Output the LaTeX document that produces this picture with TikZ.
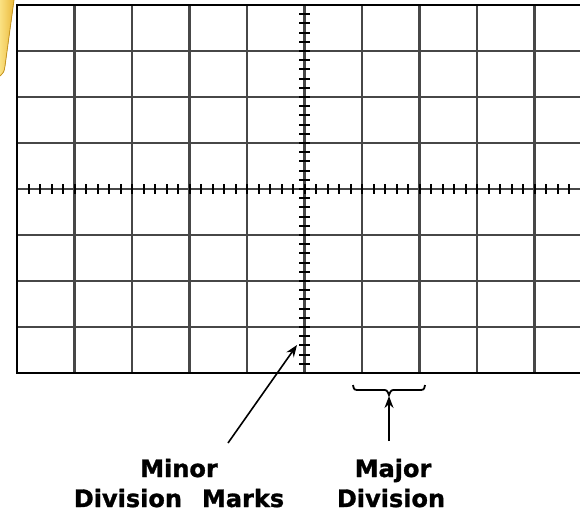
\documentclass[tikz,border=0pt]{standalone}
\usepackage{fontspec}
\setmainfont{DejaVu Sans}[BoldFeatures={FakeBold=1.2}]
\usetikzlibrary{arrows.meta}
\definecolor{foldlight}{RGB}{250,225,130}
\definecolor{folddark}{RGB}{235,185,60}
\definecolor{foldedge}{RGB}{200,150,30}
\tikzset{
  gridline/.style={line width=2.6pt, black!72},
  border/.style={line width=2.6pt, black},
  tick/.style={line width=2pt, black},
  pointer/.style={line width=1.6pt, black, -{Stealth[length=12pt,width=9pt]}},
  lbl/.style={font=\fontsize{24pt}{26pt}\selectfont\bfseries, anchor=base, inner sep=0pt},
}
\begin{document}
\begin{tikzpicture}[x=1pt,y=-1pt]
\useasboundingbox (0,0) rectangle (580,513);
% yellow folder corner
\fill[left color=foldlight, right color=folddark]
  (0,0) -- (14,0) -- (5,66) .. controls (4,72) .. (0,76) -- cycle;
\draw[line width=0.8pt, foldedge] (14,0) -- (5,66) .. controls (4,72) .. (0,76);
% grid
\begin{scope}
\clip (0,0) rectangle (580,513);
\foreach \i in {1,...,9} \draw[gridline] ({17+57.5*\i},5) -- ({17+57.5*\i},373);
\foreach \j in {1,...,7} \draw[gridline] (17,{5+46*\j}) -- (600,{5+46*\j});
\draw[border] (600,5) -- (17,5) -- (17,373) -- (600,373);
% minor ticks
\foreach \k in {1,...,39} \draw[tick] (304.5,{5+9.2*\k}) ++(-5.5,0) -- ++(11,0);
\foreach \k in {1,...,49} \draw[tick] ({17+11.5*\k},189) ++(0,-5) -- ++(0,10);
\end{scope}
% brace
\draw[line width=1.8pt, black] (353,385) .. controls (354,390) .. (360,390) -- (382,390)
  .. controls (387,390) .. (389,395) .. controls (391,390) .. (396,390) -- (418,390)
  .. controls (424,390) .. (425,385);
% labels
\node[lbl] (minor) at (179,477) {Minor};
\node[lbl] (minordiv) at (179,507) {Division\hspace{20pt}Marks};
\node[lbl] (major) at (393,477) {Major};
\node[lbl] (majordiv) at (391,507) {Division};
% pointers
\coordinate (mintail) at (228,443);
\coordinate (minhead) at (297,345);
\coordinate (majtail) at (389,441);
\coordinate (majhead) at (389,396);
\draw[pointer] (mintail) -- (minhead);
\draw[pointer] (majtail) -- (majhead);
\end{tikzpicture}
\end{document}
